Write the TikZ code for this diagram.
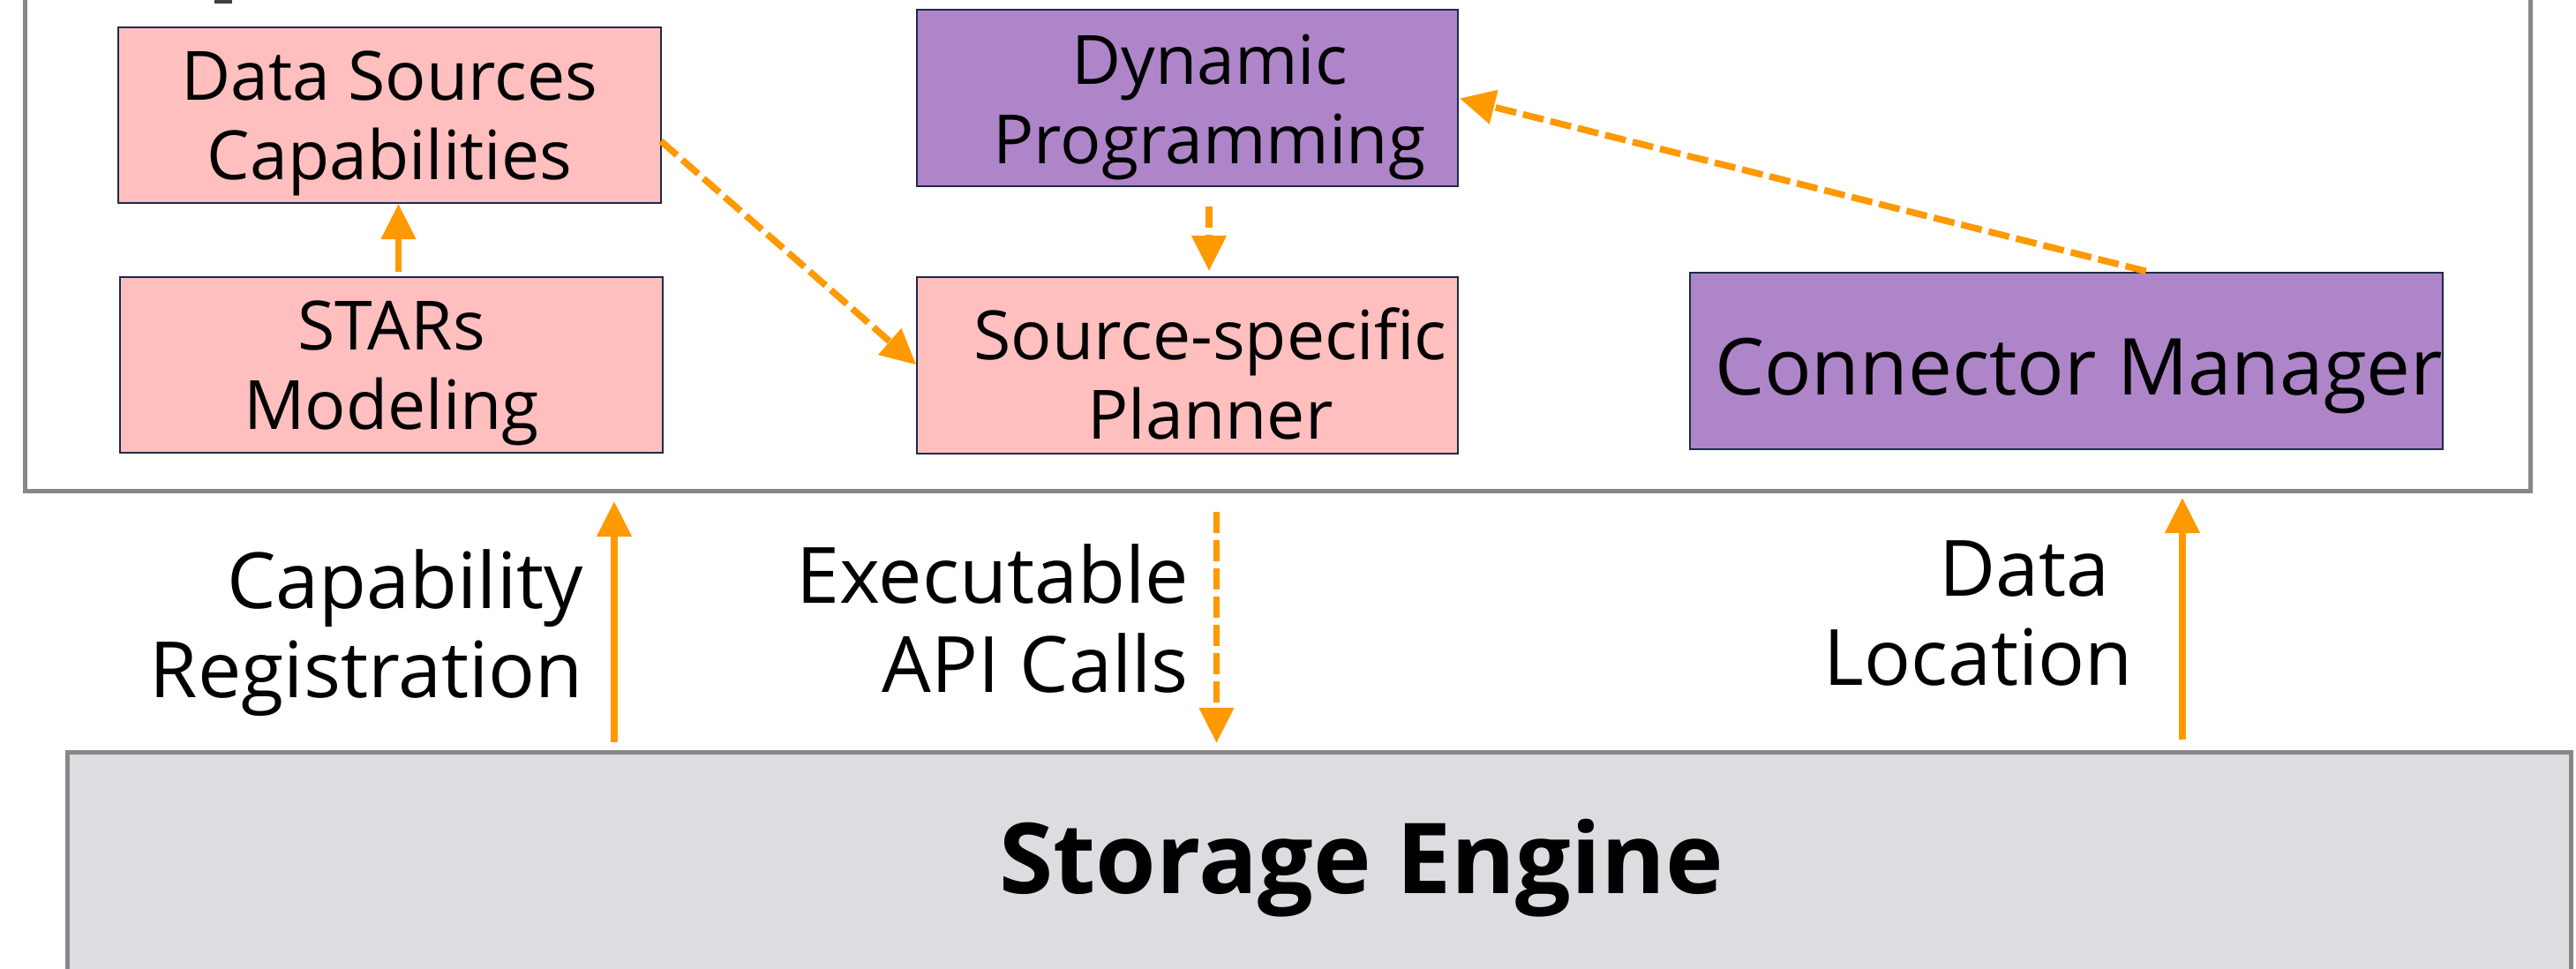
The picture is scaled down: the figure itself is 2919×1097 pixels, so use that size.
\documentclass[tikz,border=0pt]{standalone}
\usepackage{fontspec}
\setmainfont{Open Sans}
\usetikzlibrary{arrows.meta}
\definecolor{pinkfill}{HTML}{FFBFBF}
\definecolor{purplefill}{HTML}{AF85C9}
\definecolor{boxline}{HTML}{1C2B48}
\definecolor{flow}{HTML}{FF9900}
\definecolor{framegray}{HTML}{878787}
\definecolor{engfill}{HTML}{DCDDE1}
\definecolor{titlegray}{HTML}{3C4049}
\newcommand{\topstrut}[1]{\rule{0pt}{#1}}
\begin{document}
\begin{tikzpicture}[x=1pt,y=-1pt,
  box/.style={draw=boxline, line width=2.7pt, inner sep=0pt, outer sep=0pt,
    minimum width=615pt, minimum height=199pt, align=center,
    font=\fontsize{77}{90}\selectfont, anchor=north west},
  pinkbox/.style={box, fill=pinkfill},
  purplebox/.style={box, fill=purplefill},
  flowline/.style={draw=flow, line width=7.5pt, -{Triangle[length=40pt,width=38pt]}},
  flowdash/.style={flowline, dash pattern=on 24pt off 8pt},
  lbl/.style={font=\fontsize{88}{101}\selectfont, align=right, anchor=base east, inner sep=0pt}]

\path[use as bounding box, clip] (0,0) rectangle (2919,1097);

% fragment of a cut-off title
\fill[titlegray] (243,-5) rectangle (263,4);

% outer frame
\node[draw=framegray, line width=5pt, minimum width=2839pt, minimum height=700pt,
  anchor=south west, inner sep=0pt, outer sep=0pt] (frame) at (28.5,556.5) {};

% storage engine
\node[draw=framegray, fill=engfill, line width=5pt, minimum width=2836.5pt,
  minimum height=264pt, anchor=north west, inner sep=0pt, outer sep=0pt,
  font=\fontsize{111}{130}\selectfont\bfseries] (se) at (76.5,852)
  {\hspace*{96pt}Storage Engine};

% boxes
\node[pinkbox] (dsc) at (134,31) {\topstrut{75pt}Data Sources\\Capabilities};
\node[pinkbox] (stars) at (136,314) {\topstrut{75pt}STARs\\Modeling};
\node[purplebox, minimum width=613pt, minimum height=200pt] (dp) at (1039,11)
  {\hspace*{50pt}\topstrut{77pt}Dynamic\\\hspace*{50pt}Programming};
\node[pinkbox, minimum width=613pt, minimum height=200pt] (ssp) at (1039,314)
  {\hspace*{52pt}\topstrut{78.5pt}Source-specific\\\hspace*{52pt}Planner};
\node[purplebox, minimum width=851pt, minimum height=200pt,
  font=\fontsize{89}{100}\selectfont] (cm) at (1915,309)
  {\hspace*{28pt}\topstrut{99pt}Connector Manager};

% x positions of vertical connectors
\coordinate (sx) at (451.5,0);
\coordinate (dpx) at (1370,0);
\coordinate (capx) at (696,0);
\coordinate (apix) at (1378.5,0);
\coordinate (locx) at (2473,0);

% connectors inside the frame
\draw[flowline, shorten <=6pt, shorten >=1pt] (stars.north -| sx) -- (dsc.south -| sx);
\draw[flowdash, shorten >=1pt] ([yshift=-29.5pt]dsc.east) -- (ssp.west);
\draw[flowdash, shorten <=23pt, shorten >=7pt] (dp.south -| dpx) -- (ssp.north -| dpx);
\draw[flowdash, shorten <=7pt, shorten >=2pt] ([xshift=97pt]cm.north) -- (dp.east);

% connectors between frame and storage engine
\draw[flowline, shorten <=11pt, shorten >=11.5pt] (se.north -| capx) -- (frame.south -| capx);
\draw[flowdash, shorten <=23.5pt, shorten >=10pt] (frame.south -| apix) -- (se.north -| apix);
\draw[flowline, shorten <=14pt, shorten >=7.5pt] (se.north -| locx) -- (frame.south -| locx);

% labels
\node[lbl] (capl) at (661,790) {Capability\\Registration};
\node[lbl] (apil) at (1347,784) {Executable\\API Calls};
\node[lbl] (locl) at (2417,776) {Data\hspace*{26pt}\\Location};
\end{tikzpicture}
\end{document}
